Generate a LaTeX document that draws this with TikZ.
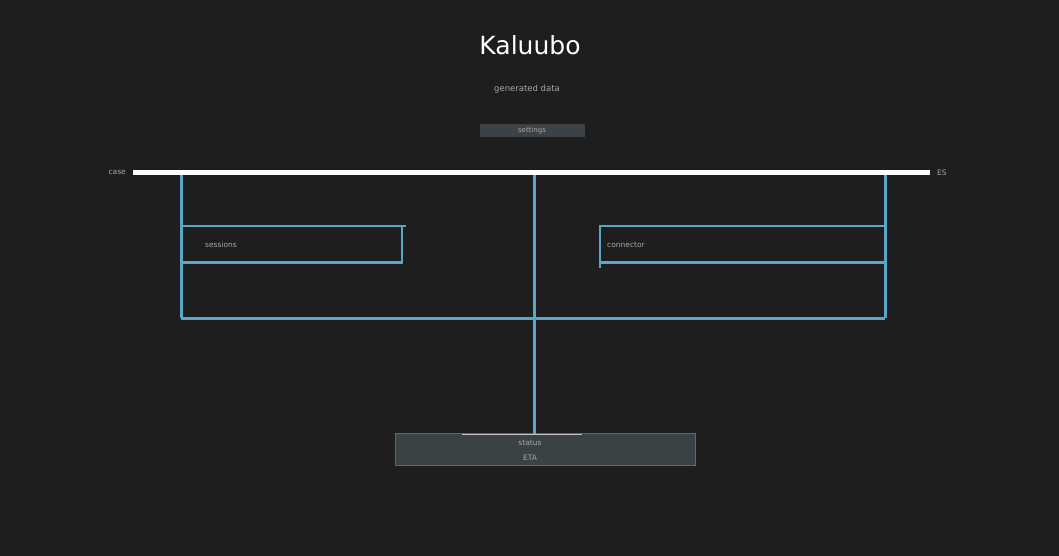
\documentclass[tikz,border=0pt]{standalone}
\usepackage{fontspec}
\setmainfont{DejaVu Sans}
\definecolor{bg}{HTML}{1E1E1F}
\definecolor{wire}{HTML}{5AA6C8}
\definecolor{dimtxt}{HTML}{A8A8A8}
\definecolor{chip}{HTML}{3C4245}
\definecolor{footbox}{HTML}{3B4245}
\begin{document}
\begin{tikzpicture}[x=1pt,y=-1pt,
  wireline/.style={draw=wire,line width=3pt},
  boxline/.style={draw=wire,line width=2.2pt},
  smalltxt/.style={text=dimtxt,font=\fontsize{7.5}{9}\selectfont,inner sep=1pt},
]
\fill[bg] (0,0) rectangle (1059,556);
\useasboundingbox (0,0) rectangle (1059,556);
% title
\node[text=white,font=\fontsize{25}{28}\selectfont] (title) at (530,45) {Kaluubo};
\node[smalltxt,font=\fontsize{8.5}{10}\selectfont] (sub) at (527,89) {generated data};
\node[fill=chip,minimum width=105pt,minimum height=13pt,inner sep=0pt,text=dimtxt,font=\fontsize{7}{8}\selectfont] (chip) at (532,131) {settings};
% white bar
\coordinate (barL) at (133,172.5);
\coordinate (barR) at (930,172.5);
\draw[white,line width=5pt] (barL) -- (barR);
\node[smalltxt,anchor=east] (lblL) at (127,172.5) {case};
\node[smalltxt,anchor=west] (lblR) at (936,172.5) {ES};
% verticals
\coordinate (v1t) at (181,175); \coordinate (v1b) at (181,318);
\coordinate (v2t) at (534,175); \coordinate (v2b) at (534,434);
\coordinate (v3t) at (885,175); \coordinate (v3b) at (885,318);
\draw[wireline] (v1t) -- (v1b);
\draw[wireline] (v3t) -- (v3b);
\draw[wireline] (v1b) -- (v3b);
% left box
\node[draw=none,minimum width=220pt,minimum height=37pt,inner sep=0pt] (lbox) at (293,244.5) {};
\draw[boxline] (183,226) -- (406,226);
\draw[boxline] (402,226) -- (402,264);
\draw[boxline] (181,262.5) -- (402,262.5);
\node[smalltxt,anchor=west] (ltxt) at (204,245) {sessions};
% right box
\node[draw=none,minimum width=286pt,minimum height=37pt,inner sep=0pt] (rbox) at (742,244.5) {};
\draw[boxline] (599,226) -- (885,226);
\draw[boxline] (600,226) -- (600,268);
\draw[boxline] (600,262.5) -- (885,262.5);
\node[smalltxt,anchor=west] (rtxt) at (606,245) {connector};
% footer box
\node[fill=footbox,draw=footbox!80!white,line width=0.6pt,minimum width=300pt,minimum height=32pt,inner sep=0pt] (foot) at (545,449) {};
\draw[wireline] (v2t) -- (v2b);
\draw[draw=dimtxt!70,line width=1pt] (462,434.5) -- (582,434.5);
\node[smalltxt] (f1) at (530,443) {status};
\node[smalltxt] (f2) at (530,458) {ETA};
\end{tikzpicture}
\end{document}
